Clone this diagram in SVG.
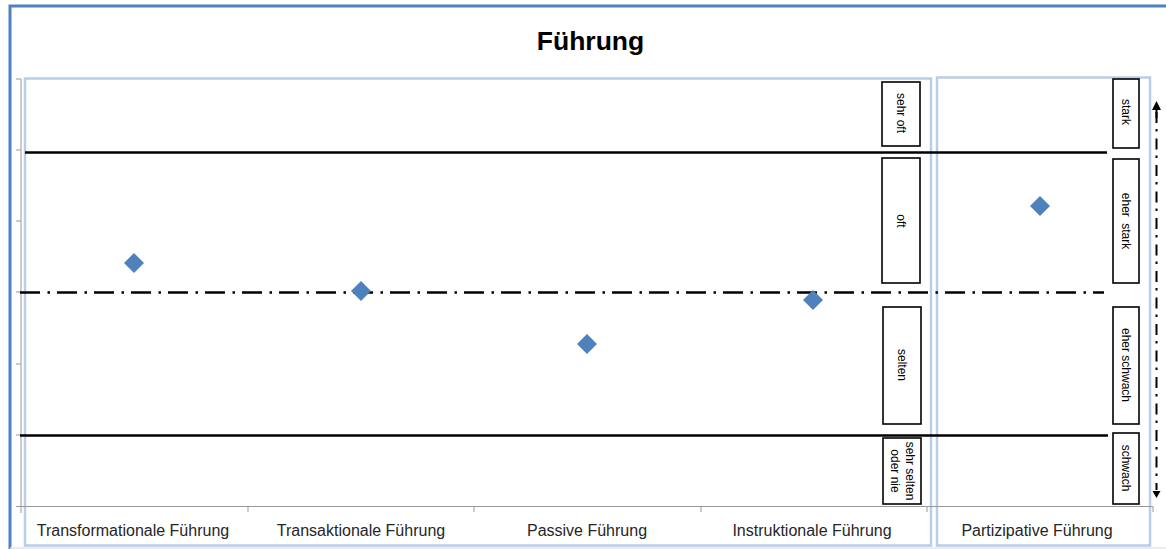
<svg xmlns="http://www.w3.org/2000/svg" width="1166" height="549" viewBox="0 0 1166 549">
<defs>
<style>
.frame{fill:none;stroke:#4F81BD;stroke-width:3}
.panel{fill:none;stroke:#B9CDE5;stroke-width:2.5}
.axis{fill:none;stroke:#999;stroke-width:1}
.solid{fill:none;stroke:#000;stroke-width:2.4}
.dashdot{fill:none;stroke:#000;stroke-width:2.4;stroke-dasharray:20 7.5 2.5 7}
.vdash{fill:none;stroke:#000;stroke-width:2;stroke-dasharray:11 6 2.5 7}
.lbox{fill:#fff;stroke:#000;stroke-width:1.6}
.ltxt{font-family:"Liberation Sans",Arial,sans-serif;font-size:12px;fill:#000;text-anchor:middle;dominant-baseline:central}
.cat{font-family:"Liberation Sans",Arial,sans-serif;font-size:16px;fill:#262626;text-anchor:middle}
.title{font-family:"Liberation Sans",Arial,sans-serif;font-size:26.5px;font-weight:bold;fill:#000;text-anchor:middle}
.dia{fill:#4F81BD}
</style>
</defs>
<rect width="1166" height="549" fill="#fff"/>
<g id="frame">
<path class="frame" d="M10,549 L10,6 L1166,6"/>
<line x1="10" y1="548" x2="1166" y2="548" stroke="#DCE6F2" stroke-width="1.5"/>
</g>
<g id="title"><text class="title" x="590.5" y="50">Führung</text></g>
<g id="panels">
<rect class="panel" x="25" y="78.5" width="906" height="467"/>
<rect class="panel" x="937" y="77.5" width="213" height="468"/>
</g>
<g id="axes">
<path class="axis" d="M21,79 L21,513 M16,79 L21,79 M16,150 L21,150 M16,221 L21,221 M16,292 L21,292 M16,364 L21,364 M16,435 L21,435 M16,506.5 L1153,506.5 M248,506.5 L248,512 M474,506.5 L474,512 M701,506.5 L701,512 M927,506.5 L927,512 M1153,506.5 L1153,512"/>
</g>
<g id="connectors">
<line class="solid" x1="25" y1="152.5" x2="1107" y2="152.5"/>
<line class="solid" x1="20" y1="435.5" x2="1108" y2="435.5"/>
<line class="dashdot" x1="20" y1="292.5" x2="1104" y2="292.5"/>
<line class="vdash" x1="1156.5" y1="112" x2="1156.5" y2="490"/>
<path d="M1156.5,101 L1152,110 L1161,110 Z" fill="#000"/>
<line x1="1156.5" y1="108" x2="1156.5" y2="118" stroke="#000" stroke-width="2"/>
<path d="M1152.5,491 L1160.5,491 L1156.5,498 Z" fill="#000"/>
</g>
<g id="points">
<path class="dia" d="M134,253 L144,263 L134,273 L124,263 Z"/>
<path class="dia" d="M361,281 L371,291 L361,301 L351,291 Z"/>
<path class="dia" d="M587,334 L597,344 L587,354 L577,344 Z"/>
<path class="dia" d="M813,290 L823,300 L813,310 L803,300 Z"/>
<path class="dia" d="M1040,196 L1050,206 L1040,216 L1030,206 Z"/>
</g>
<g id="label-sehr-oft">
<rect class="lbox" x="882" y="82" width="38" height="64"/>
<text class="ltxt" transform="translate(901,113) rotate(90)">sehr oft</text>
</g>
<g id="label-oft">
<rect class="lbox" x="882" y="158" width="38" height="125"/>
<text class="ltxt" transform="translate(901,221) rotate(90)">oft</text>
</g>
<g id="label-selten">
<rect class="lbox" x="883" y="307" width="38" height="117"/>
<text class="ltxt" transform="translate(902,365) rotate(90)">selten</text>
</g>
<g id="label-sehr-selten">
<rect class="lbox" x="883" y="438" width="38" height="66"/>
<text class="ltxt" transform="translate(902,471) rotate(90)"><tspan x="0" y="-8">sehr selten</tspan><tspan x="0" y="7">oder nie</tspan></text>
</g>
<g id="label-stark">
<rect class="lbox" x="1113" y="79" width="26" height="69"/>
<text class="ltxt" transform="translate(1126,112) rotate(90)">stark</text>
</g>
<g id="label-eher-stark">
<rect class="lbox" x="1113" y="159" width="26" height="124"/>
<text class="ltxt" transform="translate(1126,221) rotate(90)" word-spacing="3">eher stark</text>
</g>
<g id="label-eher-schwach">
<rect class="lbox" x="1113" y="307" width="26" height="117"/>
<text class="ltxt" transform="translate(1126,365) rotate(90)">eher schwach</text>
</g>
<g id="label-schwach">
<rect class="lbox" x="1113" y="433" width="26" height="71"/>
<text class="ltxt" transform="translate(1126,468) rotate(90)">schwach</text>
</g>
<g id="categories">
<text class="cat" x="133" y="536">Transformationale Führung</text>
<text class="cat" x="361" y="536">Transaktionale Führung</text>
<text class="cat" x="587" y="536">Passive Führung</text>
<text class="cat" x="812" y="536">Instruktionale Führung</text>
<text class="cat" x="1037" y="536">Partizipative Führung</text>
</g>
</svg>
